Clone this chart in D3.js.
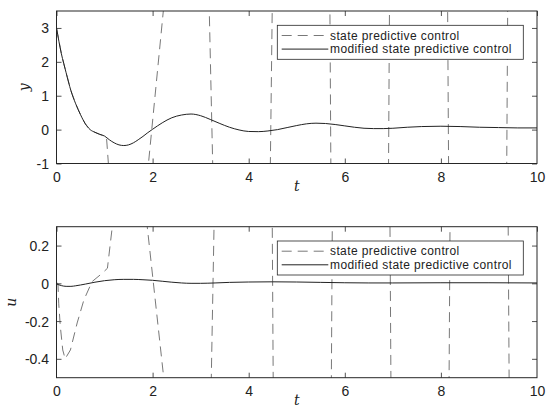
<!DOCTYPE html>
<html>
<head>
<meta charset="utf-8">
<script src="https://cdn.jsdelivr.net/npm/d3@7"></script>
<style>
  body { margin: 0; background: #fff; }
  svg { display: block; }
  .tick text { font-family: "Liberation Sans", Arial, sans-serif; font-size: 14px; fill: #222; }
</style>
</head>
<body>
<svg width="546" height="419"></svg>
<script>
// ---- data ----
var xTicks = [0, 2, 4, 6, 8, 10];
var yTicksTop = [-1, 0, 1, 2, 3];
var yTicksBot = [-0.4, -0.2, 0, 0.2];
var legendLabels = ["state predictive control", "modified state predictive control"];

// y(t), modified state predictive control (solid)
var ySolidT = [0, 0.1, 0.2, 0.3, 0.4, 0.5, 0.6, 0.7, 0.8, 0.9, 1.0, 1.1, 1.2, 1.3, 1.4, 1.5, 1.6, 1.7, 1.8, 1.9, 2.0,
  2.2, 2.4, 2.6, 2.8, 3.0, 3.2, 3.4, 3.6, 3.8, 4.0, 4.2, 4.4, 4.6, 4.8, 5.0, 5.2, 5.4, 5.6, 5.8, 6.0, 6.2, 6.4, 6.6, 6.8,
  7.0, 7.3, 7.6, 8.0, 8.4, 8.8, 9.2, 9.6, 10];
var ySolidV = [3.0, 2.25, 1.68, 1.15, 0.76, 0.44, 0.17, 0.0, -0.08, -0.14, -0.19, -0.3, -0.39, -0.45, -0.47, -0.45, -0.39, -0.3, -0.2, -0.09, 0.01,
  0.2, 0.35, 0.43, 0.46, 0.41, 0.3, 0.18, 0.07, -0.01, -0.055, -0.06, -0.04, 0.0, 0.06, 0.12, 0.17, 0.19, 0.18, 0.15, 0.11, 0.07, 0.04, 0.03, 0.03,
  0.04, 0.07, 0.09, 0.1, 0.09, 0.07, 0.06, 0.05, 0.05];

// y(t), state predictive control (dashed) - diverges, leaves the axes
var yDashT = [0, 0.1, 0.2, 0.3, 0.4, 0.5, 0.6, 0.7, 0.8, 0.9, 1.0, 1.04, 1.09, 1.90, 2.23, 3.178, 3.252, 4.45, 4.49, 5.69, 5.71, 6.91, 6.93, 8.14, 8.16, 9.37, 9.39, 10];
var yDashV = [3.0, 2.25, 1.68, 1.15, 0.76, 0.44, 0.17, 0.0, -0.08, -0.14, -0.19, -0.22, -1.2, -1.2, 3.6, 3.6, -1.1, -1.1, 3.6, 3.6, -1.1, -1.1, 3.6, 3.6, -1.1, -1.1, 3.6, 3.6];

// u(t), modified (solid)
var uSolidT = [0, 0.1, 0.2, 0.3, 0.4, 0.6, 0.8, 1.0, 1.2, 1.4, 1.6, 1.8, 2.0, 2.2, 2.4, 2.6, 2.8, 3.0, 3.3, 3.6, 4.0, 4.5, 5.0, 5.5, 6.0, 6.5, 7.0, 8.0, 9.0, 10];
var uSolidV = [-0.003, -0.012, -0.016, -0.016, -0.013, -0.004, 0.006, 0.014, 0.019, 0.021, 0.021, 0.019, 0.016, 0.011, 0.006, 0.002, 0.0, 0.0, 0.002, 0.005, 0.007, 0.008, 0.007, 0.005, 0.003, 0.002, 0.002, 0.003, 0.003, 0.002];

// u(t), state predictive control (dashed)
var uDashT = [0, 0.03, 0.046, 0.08, 0.13, 0.18, 0.29, 0.43, 0.57, 0.74, 0.95, 1.06, 1.17, 1.88, 2.24, 3.22, 3.28, 4.49, 4.51, 5.72, 5.74, 6.94, 6.96, 8.17, 8.19, 9.40, 9.42, 10];
var uDashV = [0.0, 0.0, -0.106, -0.23, -0.353, -0.40, -0.353, -0.21, -0.088, 0.009, 0.053, 0.08, 0.32, 0.32, -0.52, -0.52, 0.32, 0.32, -0.52, -0.52, 0.32, 0.32, -0.52, -0.52, 0.32, 0.32, -0.52, -0.52];

function zip(ts, vs) {
  return ts.map(function (t, i) { return { t: t, v: vs[i] }; });
}

var svg = d3.select("svg");
var axisColor = "#262626";

var x = d3.scaleLinear().domain([0, 10]).range([56.5, 537]);

var panels = [
  { id: "top", domain: [-1, 3.5], range: [163.5, 11], ticks: yTicksTop, label: "y", labelX: 25,
    solid: zip(ySolidT, ySolidV), dash: zip(yDashT, yDashV), legendY: 25.3 },
  { id: "bot", domain: [-0.5, 0.3], range: [377.7, 226.7], ticks: yTicksBot, label: "u", labelX: 12,
    solid: zip(uSolidT, uSolidV), dash: zip(uDashT, uDashV), legendY: 241 }
];

function fmt(d) { return String(d); }

panels.forEach(function (p) {
  var y = d3.scaleLinear().domain(p.domain).range(p.range);
  var top = p.range[1], bottom = p.range[0];
  var left = x.range()[0], right = x.range()[1];
  var g = svg.append("g");

  g.append("clipPath").attr("id", "clip-" + p.id)
    .append("rect")
    .attr("x", left).attr("y", top)
    .attr("width", right - left).attr("height", bottom - top);

  // axes, ticks inside on all four sides
  var ax = g.append("g").attr("transform", "translate(0," + bottom + ")")
    .call(d3.axisBottom(x).tickValues(xTicks).tickFormat(fmt).tickSize(-5).tickSizeOuter(0).tickPadding(8.5));
  var axT = g.append("g").attr("transform", "translate(0," + top + ")")
    .call(d3.axisTop(x).tickValues(xTicks).tickFormat("").tickSize(-5).tickSizeOuter(0));
  var ay = g.append("g").attr("transform", "translate(" + left + ",0)")
    .call(d3.axisLeft(y).tickValues(p.ticks).tickFormat(fmt).tickSize(-5).tickSizeOuter(0).tickPadding(7.5));
  var ayR = g.append("g").attr("transform", "translate(" + right + ",0)")
    .call(d3.axisRight(y).tickValues(p.ticks).tickFormat("").tickSize(-5).tickSizeOuter(0));

  [ax, axT, ay, ayR].forEach(function (a) {
    a.select(".domain").remove();
    a.selectAll(".tick line").attr("stroke", axisColor).attr("stroke-width", 0.8);
  });
  ax.selectAll(".tick").filter(function (d) { return d === 0 || d === 10; }).select("line").remove();
  ay.selectAll(".tick text").attr("dy", "0.36em");

  var line = d3.line()
    .x(function (d) { return x(d.t); })
    .y(function (d) { return y(d.v); });

  var plot = g.append("g").attr("clip-path", "url(#clip-" + p.id + ")");

  plot.append("path")
    .datum(p.dash)
    .attr("fill", "none")
    .attr("stroke", "#555")
    .attr("stroke-width", 0.8)
    .attr("stroke-dasharray", "10,6")
    .attr("d", line.curve(d3.curveLinear));

  plot.append("path")
    .datum(p.solid)
    .attr("fill", "none")
    .attr("stroke", "#222")
    .attr("stroke-width", 1)
    .attr("d", d3.line()
      .x(function (d) { return x(d.t); })
      .y(function (d) { return y(d.v); })
      .curve(d3.curveMonotoneX));

  // frame
  g.append("rect")
    .attr("x", left).attr("y", top)
    .attr("width", right - left).attr("height", bottom - top)
    .attr("fill", "none").attr("stroke", axisColor).attr("stroke-width", 1);

  // axis labels
  g.append("text")
    .attr("x", (left + right) / 2)
    .attr("y", bottom + 27)
    .attr("text-anchor", "middle")
    .style("font-family", "'DejaVu Serif', serif")
    .style("font-style", "italic")
    .style("font-size", "14px")
    .attr("fill", "#222")
    .text("t");

  g.append("text")
    .attr("transform", "translate(" + (p.labelX + 4) + "," + ((top + bottom) / 2) + ") rotate(-90)")
    .attr("text-anchor", "middle")
    .style("font-family", "'DejaVu Serif', serif")
    .style("font-style", "italic")
    .style("font-size", "14px")
    .attr("fill", "#222")
    .text(p.label);

  // legend
  var lg = g.append("g").attr("transform", "translate(277.3," + p.legendY + ")");
  lg.append("rect")
    .attr("width", 246).attr("height", 34)
    .attr("fill", "#fff").attr("stroke", axisColor).attr("stroke-width", 0.8);
  legendLabels.forEach(function (lab, i) {
    var cy = 10.2 + i * 13.6;
    lg.append("line")
      .attr("x1", 4.4).attr("x2", 51).attr("y1", cy).attr("y2", cy)
      .attr("stroke", i === 0 ? "#555" : "#222")
      .attr("stroke-width", i === 0 ? 0.8 : 1)
      .attr("stroke-dasharray", i === 0 ? "10,6" : null);
    lg.append("text")
      .attr("x", 52.7).attr("y", cy).attr("dy", "0.35em")
      .style("font-family", "'Liberation Sans', Arial, sans-serif")
      .style("font-size", "12px")
      .style("letter-spacing", "0.4px")
      .attr("fill", "#222")
      .text(lab);
  });
});
</script>
</body>
</html>
